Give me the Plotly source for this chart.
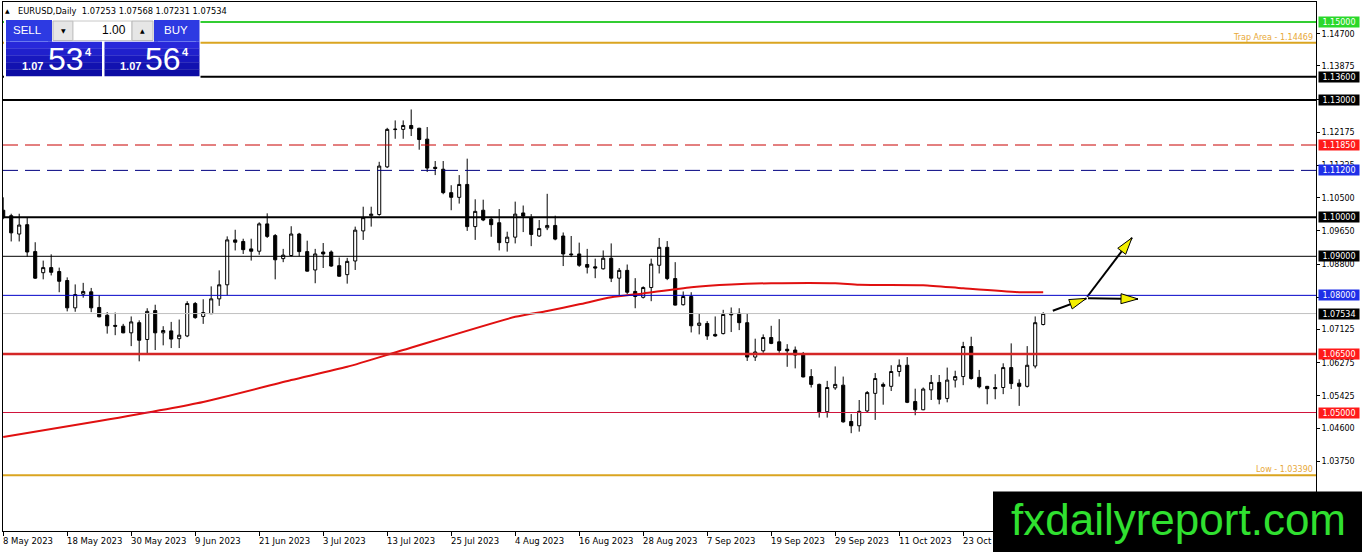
import math
import plotly.graph_objects as go

# ---------------- data ----------------
open_ = [
    1.1018, 1.1004, 1.0957, 1.0981, 1.0912, 1.0858, 1.0871, 1.0861, 1.0838, 1.0768,
    1.0803, 1.0809, 1.0769, 1.0749, 1.0723, 1.0721, 1.0704, 1.0730, 1.0687, 1.0761,
    1.0704, 1.0709, 1.0689, 1.0696, 1.0779, 1.0746, 1.0753, 1.0791, 1.0827, 1.0942,
    1.0938, 1.0919, 1.0913, 1.0983, 1.0953, 1.0894, 1.0902, 1.0957, 1.0912, 1.0865,
    1.0911, 1.0911, 1.0876, 1.0853, 1.0888, 1.0965, 1.1004, 1.1007, 1.1129, 1.12245,
    1.1225, 1.1235, 1.1228, 1.1200, 1.1128, 1.1123, 1.1063, 1.1051, 1.1084, 1.0976,
    1.1018, 1.0995, 1.0986, 1.0935, 1.0949, 1.1011, 1.0998, 1.0952, 1.0973, 1.0979,
    1.0952, 1.0906, 1.0906, 1.0879, 1.0873, 1.0868, 1.0895, 1.0844, 1.0864, 1.0810,
    1.0795, 1.0820, 1.0877, 1.0923, 1.0843, 1.0776, 1.0797, 1.0723, 1.0728, 1.0700,
    1.0702, 1.0754, 1.0754, 1.0730, 1.0642, 1.0658, 1.0692, 1.0681, 1.0662, 1.0660,
    1.0647, 1.0592, 1.0572, 1.0502, 1.0563, 1.0570, 1.0477, 1.0466, 1.0504, 1.0549,
    1.0572, 1.0567, 1.0605, 1.0621, 1.0528, 1.0507, 1.0558, 1.0577, 1.0536, 1.0583,
    1.0592, 1.0669, 1.0590, 1.0567, 1.0564, 1.0564, 1.0615, 1.0575, 1.0567, 1.0619,
    1.07253]
high = [
    1.1051, 1.1009, 1.1009, 1.0998, 1.0936, 1.0889, 1.0905, 1.0871, 1.0846, 1.0828,
    1.0832, 1.0819, 1.0800, 1.0757, 1.0756, 1.0727, 1.0746, 1.0736, 1.0767, 1.0776,
    1.0721, 1.0732, 1.0738, 1.0785, 1.0783, 1.0790, 1.0823, 1.0864, 1.0951, 1.0968,
    1.0945, 1.0945, 1.0987, 1.1010, 1.0957, 1.0919, 1.0977, 1.0960, 1.0940, 1.0919,
    1.0934, 1.0915, 1.0897, 1.0896, 1.0976, 1.1027, 1.1027, 1.1142, 1.1229, 1.1248,
    1.1248, 1.1276, 1.1229, 1.1231, 1.1144, 1.1144, 1.1082, 1.1108, 1.1150, 1.1046,
    1.1045, 1.1001, 1.1021, 1.0963, 1.1040, 1.1030, 1.1008, 1.0993, 1.1060, 1.1004,
    1.0961, 1.0952, 1.0935, 1.0919, 1.0894, 1.0915, 1.0933, 1.0870, 1.0879, 1.0844,
    1.0823, 1.0894, 1.0947, 1.0939, 1.0885, 1.0810, 1.0808, 1.0753, 1.0734, 1.0746,
    1.0763, 1.0769, 1.0767, 1.0754, 1.0689, 1.0700, 1.0722, 1.0739, 1.0675, 1.0669,
    1.0655, 1.0611, 1.0574, 1.0581, 1.0618, 1.0592, 1.0496, 1.0532, 1.0555, 1.0601,
    1.0577, 1.0621, 1.0636, 1.0642, 1.0561, 1.0564, 1.0596, 1.0596, 1.0615, 1.0607,
    1.0681, 1.0694, 1.0609, 1.0568, 1.0598, 1.0626, 1.0677, 1.0585, 1.0670, 1.0746,
    1.07568]
low = [
    1.0995, 1.0938, 1.0938, 1.0899, 1.0842, 1.0841, 1.0851, 1.0808, 1.0759, 1.0758,
    1.0794, 1.0757, 1.0744, 1.0702, 1.0698, 1.0703, 1.0670, 1.0631, 1.0651, 1.0660,
    1.0672, 1.0665, 1.0665, 1.0693, 1.0740, 1.0727, 1.0752, 1.0773, 1.0800, 1.0915,
    1.0906, 1.0889, 1.0904, 1.0947, 1.0841, 1.0885, 1.0900, 1.0900, 1.0861, 1.0831,
    1.0870, 1.0873, 1.0848, 1.0830, 1.0865, 1.0942, 1.0976, 1.1004, 1.1126, 1.1201,
    1.1201, 1.1208, 1.1173, 1.1116, 1.1108, 1.1059, 1.1018, 1.1035, 1.0965, 1.0942,
    1.0990, 1.0950, 1.0915, 1.0912, 1.0933, 1.0962, 1.0926, 1.0950, 1.0967, 1.0941,
    1.0875, 1.0898, 1.0873, 1.0856, 1.0844, 1.0866, 1.0834, 1.0801, 1.0803, 1.0767,
    1.0792, 1.0785, 1.0856, 1.0839, 1.0774, 1.0774, 1.0705, 1.0700, 1.0686, 1.0694,
    1.0700, 1.0706, 1.0711, 1.0632, 1.0632, 1.0653, 1.0675, 1.0653, 1.0617, 1.0613,
    1.0590, 1.0564, 1.0487, 1.0487, 1.0558, 1.0474, 1.0447, 1.0451, 1.0500, 1.0481,
    1.0520, 1.0555, 1.0592, 1.0524, 1.0493, 1.0506, 1.0532, 1.0521, 1.0526, 1.0564,
    1.0570, 1.0584, 1.0562, 1.0521, 1.0534, 1.0547, 1.0560, 1.0517, 1.0564, 1.0613,
    1.07231]
close = [
    1.0999, 1.0960, 1.0980, 1.0911, 1.0844, 1.0871, 1.0859, 1.0836, 1.0768, 1.0802,
    1.0810, 1.0768, 1.0745, 1.0722, 1.0721, 1.0704, 1.0732, 1.0685, 1.0759, 1.0704,
    1.0710, 1.0688, 1.0698, 1.0779, 1.0743, 1.0756, 1.0791, 1.0827, 1.0942, 1.0936,
    1.0917, 1.0913, 1.0983, 1.0951, 1.0891, 1.0903, 1.0957, 1.0912, 1.0862, 1.0906,
    1.0906, 1.0875, 1.0849, 1.0887, 1.0967, 1.0999, 1.1008, 1.1131, 1.1225, 1.12255,
    1.1235, 1.1227, 1.1199, 1.1126, 1.1125, 1.1063, 1.1051, 1.1084, 1.0976, 1.1015,
    1.0993, 1.0981, 1.0935, 1.0949, 1.1008, 1.1003, 1.0956, 1.0971, 1.0979, 1.0944,
    1.0906, 1.0904, 1.0877, 1.0872, 1.0870, 1.0895, 1.0844, 1.0864, 1.0808, 1.0797,
    1.0820, 1.0880, 1.0923, 1.0843, 1.0775, 1.0797, 1.0722, 1.0729, 1.0696, 1.0696,
    1.0751, 1.0750, 1.0730, 1.0642, 1.0655, 1.0692, 1.0677, 1.0659, 1.0658, 1.0647,
    1.0591, 1.0572, 1.0502, 1.0564, 1.0572, 1.0476, 1.0466, 1.0503, 1.0551, 1.0587,
    1.0567, 1.0605, 1.0621, 1.0526, 1.0507, 1.0560, 1.0577, 1.0534, 1.0583, 1.0592,
    1.0669, 1.0587, 1.0566, 1.0561, 1.0561, 1.0615, 1.0574, 1.0567, 1.0621, 1.0730,
    1.07534]
bar_idx = list(range(len(open_)))

# moving average (read at sample bars)
ma_idx = [0, 12, 25, 36, 43, 50, 64, 68, 72, 76, 80, 86, 91, 96, 104, 107, 115, 120, 127, 130]
ma_val = [1.0437, 1.0478, 1.0527, 1.0583, 1.0617, 1.0660, 1.0745, 1.0760, 1.0777, 1.0795,
          1.0805, 1.0821, 1.0828, 1.0831, 1.0831, 1.0827, 1.0826, 1.0818, 1.0808, 1.0808]

# date axis
tick_idx = [0, 8, 16, 24, 32, 40, 48, 56, 64, 72, 80, 88, 96, 104, 112, 120, 128]
label_idx = [0, 8, 16, 24, 32, 40, 48, 56, 64, 72, 80, 88, 96, 104, 112, 120]
tick_labels = ["8 May 2023", "18 May 2023", "30 May 2023", "9 Jun 2023", "21 Jun 2023",
               "3 Jul 2023", "13 Jul 2023", "25 Jul 2023", "4 Aug 2023", "16 Aug 2023",
               "28 Aug 2023", "7 Sep 2023", "19 Sep 2023", "29 Sep 2023", "11 Oct 2023",
               "23 Oct"]

# price axis ticks
price_ticks = [1.14700, 1.13875, 1.13025, 1.12175, 1.11325, 1.10500, 1.09650, 1.08800,
               1.07950, 1.07125, 1.06275, 1.05425, 1.04600, 1.03750]

# horizontal levels
hl_levels = [1.15000, 1.14469, 1.13600, 1.13000, 1.11850, 1.11200, 1.10000, 1.09000,
             1.08000, 1.07534, 1.06500, 1.05000, 1.03390]
hl_colors = ['#32cd32', '#daa520', '#000000', '#000000', '#c80000', '#000080', '#000000',
             '#000000', '#0000c8', '#c0c0c0', '#d42626', '#d0143c', '#daa520']
hl_widths = [2, 2, 2, 2, 1, 1, 2, 1, 1, 1, 2.5, 1, 2]
hl_dashes = ['solid', 'solid', 'solid', 'solid', '15px,7px', '15px,7px', 'solid', 'solid',
             'solid', 'solid', 'solid', 'solid', 'solid']

# price tags on the right
tag_levels = [1.15000, 1.13600, 1.13000, 1.11850, 1.11200, 1.10000, 1.09000, 1.08000,
              1.07534, 1.06500, 1.05000]
tag_colors = ['#2ad82a', '#000000', '#000000', '#ff1a1a', '#1f2fe8', '#000000', '#000000',
              '#1f2fe8', '#000000', '#ff1a1a', '#ff1a1a']

# text labels on lines
line_text = ["Trap Area - 1.14469", "Low - 1.03390"]
line_text_levels = [1.14469, 1.03390]

# arrows (bar index, price)
arrow_x0 = [131.2, 135.6, 135.5]
arrow_y0 = [1.07606, 1.07926, 1.07964]
arrow_x1 = [135.4, 141.85, 141.1]
arrow_y1 = [1.07923, 1.07908, 1.09475]

# ---------------- geometry ----------------
W, H = 1362, 552
ML, MR, MT, MB = 3, 46, 2, 21
PW, PH = W - ML - MR, H - MT - MB
X_RANGE = [-0.025, -0.025 + PW / 8.0]
Y_RANGE = [1.15 - 509 / 3905.0, 1.15 + 20 / 3905.0]
XS = PW / (X_RANGE[1] - X_RANGE[0])
YS = PH / (Y_RANGE[1] - Y_RANGE[0])


def pxx(x):
    return (x - ML) / PW


def pxy(y):
    return (H - MB - y) / PH


fig = go.Figure()

fig.add_trace(go.Candlestick(
    x=bar_idx, open=open_, high=high, low=low, close=close,
    increasing=dict(line=dict(color='black', width=1), fillcolor='white'),
    decreasing=dict(line=dict(color='black', width=1), fillcolor='black'),
    whiskerwidth=0, showlegend=False, hoverinfo='none'))

fig.add_trace(go.Scatter(
    x=ma_idx, y=ma_val, mode='lines',
    line=dict(color='#e01010', width=2, shape='spline', smoothing=0.6),
    showlegend=False, hoverinfo='skip'))

# arrow shafts
for i in range(len(arrow_x0)):
    fig.add_trace(go.Scatter(x=[arrow_x0[i], arrow_x1[i]], y=[arrow_y0[i], arrow_y1[i]],
                             mode='lines', line=dict(color='black', width=2),
                             showlegend=False, hoverinfo='skip'))

shapes = []
for lv, c, w, d in zip(hl_levels, hl_colors, hl_widths, hl_dashes):
    shapes.append(dict(type='line', xref='paper', yref='y', x0=0, x1=1, y0=lv, y1=lv,
                       line=dict(color=c, width=w, dash=d), layer='above'))

# arrow heads
for i in range(len(arrow_x0)):
    dx = (arrow_x1[i] - arrow_x0[i]) * XS
    dy = (arrow_y1[i] - arrow_y0[i]) * YS
    n = math.hypot(dx, dy)
    ux, uy = dx / n, dy / n
    L, Wd = 17, 5
    bx, by = -ux * L, -uy * L
    qx, qy = -uy * Wd, ux * Wd
    path = "M0,0 L{:.2f},{:.2f} L{:.2f},{:.2f} Z".format(bx + qx, by + qy, bx - qx, by - qy)
    shapes.append(dict(type='path', xref='x', yref='y', xsizemode='pixel', ysizemode='pixel',
                       xanchor=arrow_x1[i], yanchor=arrow_y1[i], path=path,
                       fillcolor='#f4f000', line=dict(color='black', width=1), layer='above'))


def rect(x0, y0, x1, y1, fill, line=None):
    shapes.append(dict(type='rect', xref='paper', yref='paper',
                       x0=pxx(x0), x1=pxx(x1), y0=pxy(y1), y1=pxy(y0),
                       fillcolor=fill, line=dict(width=(1 if line else 0), color=line or fill),
                       layer='above'))


# one-click trading panel
rect(4, 19, 200.5, 78.5, 'white')
rect(6, 20, 52, 41.7, '#2d3ae2')
rect(154, 20, 199.5, 41.7, '#2d3ae2')
strips = ['#2828da', '#2020cc', '#1818be', '#1212b0', '#0c0ca4']
sh = (76 - 41.7) / len(strips)
for k, col in enumerate(strips):
    rect(6, 41.7 + k * sh, 102, 41.7 + (k + 1) * sh + 0.3, col)
    rect(104.5, 41.7 + k * sh, 199.5, 41.7 + (k + 1) * sh + 0.3, col)
rect(53, 21, 73, 40.5, '#e6e6e6', '#b8b8b8')
rect(73, 21, 132, 40.5, '#ffffff', '#c8c8c8')
rect(132, 21, 153, 40.5, '#e6e6e6', '#b8b8b8')
rect(10, 41.3, 48, 42.1, '#7383f2')
rect(158, 41.3, 196, 42.1, '#7383f2')

# watermark box
rect(993, 491.5, 1363, 553, '#000000')

annotations = []


def ptext(x, y, text, size, color='white', family='Liberation Sans', xanchor='center', bold=False):
    t = "<b>" + text + "</b>" if bold else text
    annotations.append(dict(xref='paper', yref='paper', x=pxx(x), y=pxy(y), text=t,
                            showarrow=False, xanchor=xanchor, yanchor='middle',
                            font=dict(family=family, size=size, color=color)))


# header
ptext(7.5, 10.5, "▲", 6, color='black', family='DejaVu Sans')
ptext(16, 10.5, "EURUSD,Daily\u00a0\u00a01.07253 1.07568 1.07231 1.07534", 8.3,
      color='black', family='DejaVu Sans', xanchor='left')

# panel texts
ptext(27.5, 30.5, "SELL", 11.5)
ptext(176, 30.5, "BUY", 11.5)
ptext(128, 30.5, "1.00", 12, color='black', xanchor='right')
ptext(63, 31, "▼", 6, color='black', family='DejaVu Sans')
ptext(142.5, 31, "▲", 6, color='black', family='DejaVu Sans')
ptext(32.5, 65.5, "1.07", 11, bold=True)
ptext(65.5, 58.5, "53", 32)
ptext(88.5, 51.5, "4", 11, bold=True)
ptext(130.7, 65.5, "1.07", 11, bold=True)
ptext(162.5, 58.5, "56", 32)
ptext(185.3, 51.5, "4", 11, bold=True)

# price tags
for lv, c in zip(tag_levels, tag_colors):
    annotations.append(dict(xref='paper', yref='y', x=1, y=lv, xanchor='left', yanchor='middle',
                            xshift=2, text="{:.5f}".format(lv), showarrow=False,
                            width=40, height=10, bgcolor=c, borderpad=0,
                            font=dict(family='DejaVu Sans', size=8, color='white')))

# line texts
for t, lv in zip(line_text, line_text_levels):
    annotations.append(dict(xref='paper', yref='y', x=1, y=lv, xanchor='right', yanchor='bottom',
                            xshift=-1, yshift=-1, text=t, showarrow=False,
                            font=dict(family='DejaVu Sans', size=8, color='#e8a838')))

# date labels
for ti, tl in zip(label_idx, tick_labels):
    annotations.append(dict(xref='x', yref='paper', x=ti, y=pxy(540.5), xanchor='left',
                            yanchor='middle', text=tl, showarrow=False, xshift=-2,
                            font=dict(family='DejaVu Sans', size=8.5, color='black')))

# watermark text
ptext(1178, 519, "fxdailyreport.com", 44, color='#30e030')

fig.update_layout(
    width=W, height=H,
    margin=dict(l=ML, r=MR, t=MT, b=MB, autoexpand=False),
    paper_bgcolor='white', plot_bgcolor='white',
    showlegend=False, boxgap=0.45,
    shapes=shapes, annotations=annotations,
    xaxis=dict(range=X_RANGE, showgrid=False, zeroline=False, showline=True, linecolor='black',
               linewidth=1, mirror=True, tickmode='array', tickvals=tick_idx,
               showticklabels=False, ticks='outside', ticklen=4, tickcolor='black',
               rangeslider=dict(visible=False), fixedrange=True),
    yaxis=dict(side='right', range=Y_RANGE, showgrid=False, zeroline=False, showline=True,
               linecolor='black', linewidth=1, mirror=True, tickmode='array',
               tickvals=price_ticks, ticktext=["{:.5f}".format(v) for v in price_ticks],
               ticks='outside', ticklen=3, tickcolor='black',
               tickfont=dict(family='DejaVu Sans', size=8, color='black'), fixedrange=True),
)

fig.write_html("out.html", config={'displayModeBar': False},
               post_script="document.body.style.margin='0px';document.body.style.overflow='hidden';")
